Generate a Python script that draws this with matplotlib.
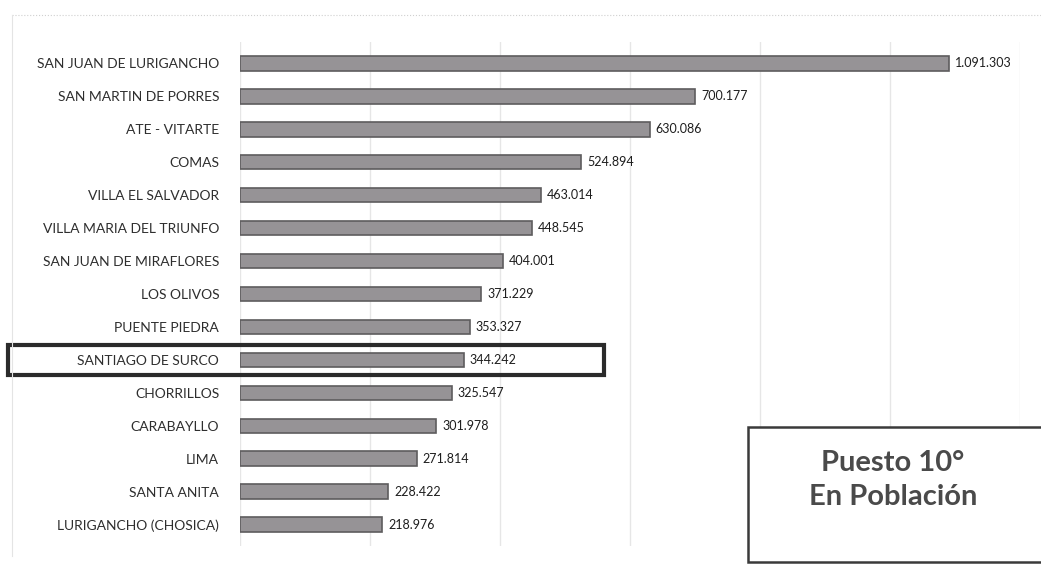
import matplotlib.pyplot as plt
import matplotlib.transforms as mtransforms
from matplotlib.patches import Rectangle

plt.rcParams['font.family'] = ['Lato', 'DejaVu Sans']

# datos
distritos = [
    'SAN JUAN DE LURIGANCHO', 'SAN MARTIN DE PORRES', 'ATE - VITARTE', 'COMAS',
    'VILLA EL SALVADOR', 'VILLA MARIA DEL TRIUNFO', 'SAN JUAN DE MIRAFLORES',
    'LOS OLIVOS', 'PUENTE PIEDRA', 'SANTIAGO DE SURCO', 'CHORRILLOS',
    'CARABAYLLO', 'LIMA', 'SANTA ANITA', 'LURIGANCHO (CHOSICA)',
]
poblacion = [1091303, 700177, 630086, 524894, 463014, 448545, 404001,
             371229, 353327, 344242, 325547, 301978, 271814, 228422, 218976]
destacado = 'SANTIAGO DE SURCO'

fig = plt.figure(figsize=(10.41, 5.67), dpi=100)
ax = fig.add_axes([240 / 1041, 1 - 546 / 567, 780 / 1041, 504 / 567])

y = list(range(len(distritos)))
ax.barh(y, poblacion, height=0.44, color='#969396', edgecolor='#5e5c5e',
        linewidth=1.2, zorder=3)

for yi, v in zip(y, poblacion):
    ax.text(v + 9000, yi, f"{v:,}".replace(",", "."), va='center', ha='left',
            fontsize=9, color='#1e1e1e')

ax.set_xlim(0, 1200000)
ax.set_ylim(len(distritos) - 0.35, -0.65)
ax.set_xticks(range(0, 1200001, 200000))
ax.xaxis.grid(True, color='#e6e6e6', linewidth=1.0, zorder=0)
ax.set_xticklabels([])
ax.tick_params(axis='x', length=0)
ax.set_yticks(y)
ax.set_yticklabels(distritos, fontsize=10, color='#2e2e2e')
ax.tick_params(axis='y', length=0, pad=15)
for s in ax.spines.values():
    s.set_visible(False)

# marco del distrito destacado
idx = distritos.index(destacado)
trans = mtransforms.blended_transform_factory(fig.transFigure, ax.transData)
ax.add_patch(Rectangle((8 / 1041, idx - 0.45), 596 / 1041, 0.9, transform=trans,
                       fill=False, edgecolor='#2b2b2b', linewidth=3,
                       clip_on=False, zorder=5))

# borde tenue del grafico
fig.add_artist(plt.Line2D([12 / 1041, 1], [1 - 15 / 567, 1 - 15 / 567],
                          color='#d0d0d0', linewidth=0.8, linestyle=':'))
fig.add_artist(plt.Line2D([12 / 1041, 12 / 1041], [1 - 15 / 567, 0.02],
                          color='#e4e4e4', linewidth=0.8))

# recuadro de texto
fig.add_artist(Rectangle((748 / 1041, 1 - 562 / 567), 300 / 1041, 135 / 567,
                         transform=fig.transFigure, facecolor='white',
                         edgecolor='#3a3a3a', linewidth=1.8, zorder=6))
fig.text(893 / 1041, 1 - 463 / 567, 'Puesto 10°', ha='center', va='center',
         fontsize=21, fontweight='bold', color='#4a4a4a', zorder=7)
fig.text(893 / 1041, 1 - 497 / 567, 'En Población', ha='center', va='center',
         fontsize=21, fontweight='bold', color='#4a4a4a', zorder=7)

fig.savefig('out.png', dpi=100, facecolor='white')
